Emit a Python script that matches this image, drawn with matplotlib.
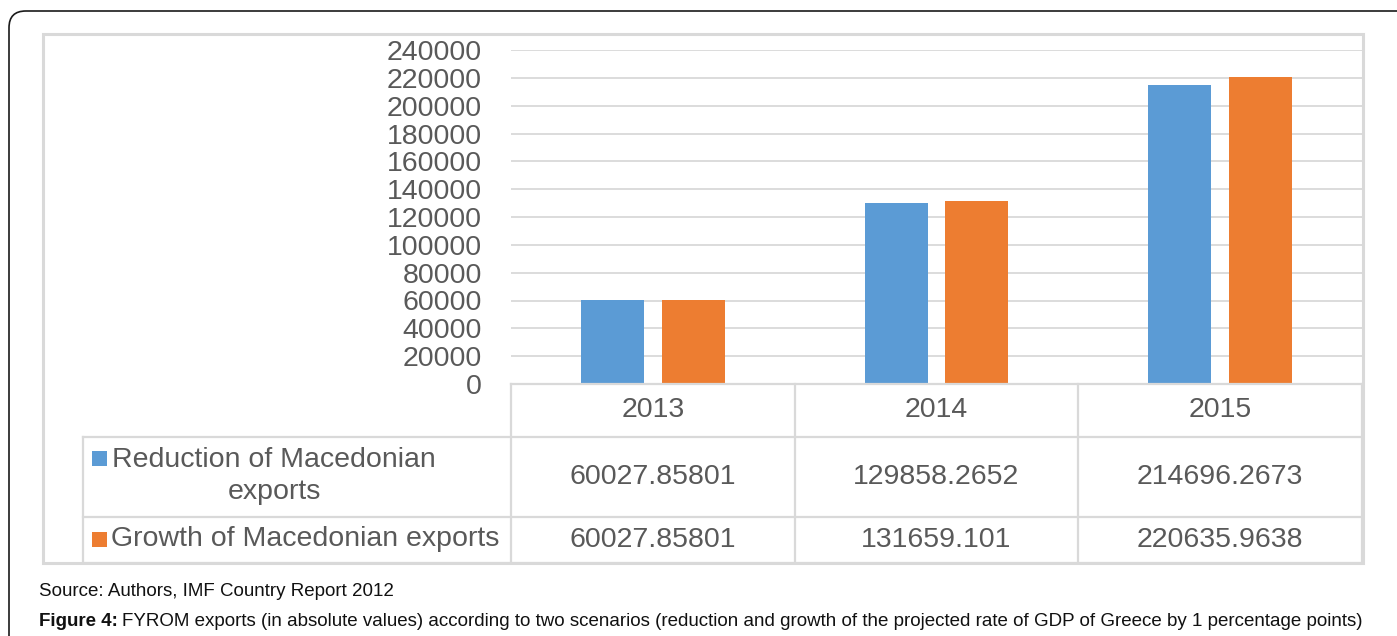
import matplotlib
matplotlib.use("Agg")
import matplotlib.pyplot as plt
import matplotlib.transforms as mtransforms
from matplotlib.lines import Line2D
from matplotlib.patches import FancyBboxPatch, Rectangle

plt.rcParams["font.family"] = ["Liberation Sans", "DejaVu Sans"]

# --- data -------------------------------------------------------------------
years = ["2013", "2014", "2015"]
series_names = ["Reduction of Macedonian\nexports", "Growth of Macedonian exports"]
reduction = [60027.85801, 129858.2652, 214696.2673]
growth = [60027.85801, 131659.101, 220635.9638]
reduction_txt = ["60027.85801", "129858.2652", "214696.2673"]
growth_txt = ["60027.85801", "131659.101", "220635.9638"]
yticks = list(range(0, 240001, 20000))

# --- style ------------------------------------------------------------------
W, H = 1397, 636
BLUE = "#5B9BD5"
ORANGE = "#ED7D31"
GRID = "#d9d9d9"
TXT = "#595959"
FS = 20.5
CAP = 13.5


def fx(x):
    return x / W


def fy(y):
    return 1 - y / H


fig = plt.figure(figsize=(W / 100, H / 100), dpi=100)
fig.patch.set_facecolor("white")

# outer rounded frame (runs off the right/bottom edges)
fig.patches.append(FancyBboxPatch(
    (fx(9), fy(660)), fx(1440 - 9), (660 - 11) / H,
    boxstyle="round,pad=0,rounding_size=0.012", transform=fig.transFigure,
    facecolor="none", edgecolor="#1a1a1a", lw=1.2, mutation_aspect=W / H))

# chart area border
fig.patches.append(Rectangle((fx(43), fy(563)), fx(1363 - 43), (563 - 34) / H,
                             transform=fig.transFigure, facecolor="none",
                             edgecolor=GRID, lw=2.2))

# --- bars -------------------------------------------------------------------
ax = fig.add_axes([fx(511), fy(384), fx(1362 - 511), (384 - 50) / H])
x = range(len(years))
bw, off = 0.222, 0.1426
ax.bar([i - off for i in x], reduction, width=bw, color=BLUE, zorder=3)
ax.bar([i + off for i in x], growth, width=bw, color=ORANGE, zorder=3)
ax.set_xlim(-0.5, 2.5)
ax.set_ylim(0, 240000)
ax.set_yticks(yticks)
ax.set_yticklabels([str(v) for v in yticks])
ax.tick_params(axis="y", length=0, pad=21, labelsize=FS, labelcolor=TXT)
ax.tick_params(axis="x", bottom=False, labelbottom=False)
ax.grid(axis="y", color=GRID, lw=1.3, zorder=0)
for s in ax.spines.values():
    s.set_visible(False)

# --- data table -------------------------------------------------------------
bt = mtransforms.blended_transform_factory(ax.transData, fig.transFigure)
line_kw = dict(color=GRID, lw=1.6)
# horizontal rules
fig.lines.append(Line2D([-0.5, 2.5], [fy(384), fy(384)], transform=bt, **line_kw))
for yy in (437, 517, 563):
    fig.lines.append(Line2D([fx(83), fx(1362)], [fy(yy), fy(yy)],
                            transform=fig.transFigure, **line_kw))
# vertical rules
for xx in (-0.5, 0.5, 1.5, 2.5):
    fig.lines.append(Line2D([xx, xx], [fy(384), fy(563)], transform=bt, **line_kw))
fig.lines.append(Line2D([fx(83), fx(83)], [fy(437), fy(563)],
                        transform=fig.transFigure, **line_kw))

for i, yr in enumerate(years):
    fig.text(i, fy(410), yr, transform=bt, ha="center", va="center",
             fontsize=FS, color=TXT)
    fig.text(i, fy(477), reduction_txt[i], transform=bt, ha="center",
             va="center", fontsize=FS, color=TXT)
    fig.text(i, fy(540), growth_txt[i], transform=bt, ha="center",
             va="center", fontsize=FS, color=TXT)

# legend keys in the row headers
for yc, col in ((458, BLUE), (539, ORANGE)):
    fig.patches.append(Rectangle((fx(92), fy(yc + 7.5)), fx(15), 15 / H,
                                 transform=fig.transFigure, facecolor=col,
                                 edgecolor="none"))
fig.text(fx(274), fy(476), series_names[0], ha="center", va="center",
         multialignment="center", fontsize=FS, color=TXT, linespacing=1.32)
fig.text(fx(111), fy(539), series_names[1], ha="left", va="center",
         fontsize=FS, color=TXT)

# --- captions ---------------------------------------------------------------
fig.text(fx(39), fy(592), "Source: Authors, IMF Country Report 2012",
         ha="left", va="center", fontsize=CAP, color="#111111")
lead = fig.text(fx(39), fy(622), "Figure 4:", ha="left", va="center",
                fontsize=CAP, fontweight="bold", color="#111111")
fig.canvas.draw()
lead_end = lead.get_window_extent().x1
fig.text(lead_end / W + fx(4), fy(622),
         "FYROM exports (in absolute values) according to two scenarios "
         "(reduction and growth of the projected rate of GDP of Greece by 1 "
         "percentage points)",
         ha="left", va="center", fontsize=CAP, color="#111111")

fig.savefig("out.png", dpi=100)
